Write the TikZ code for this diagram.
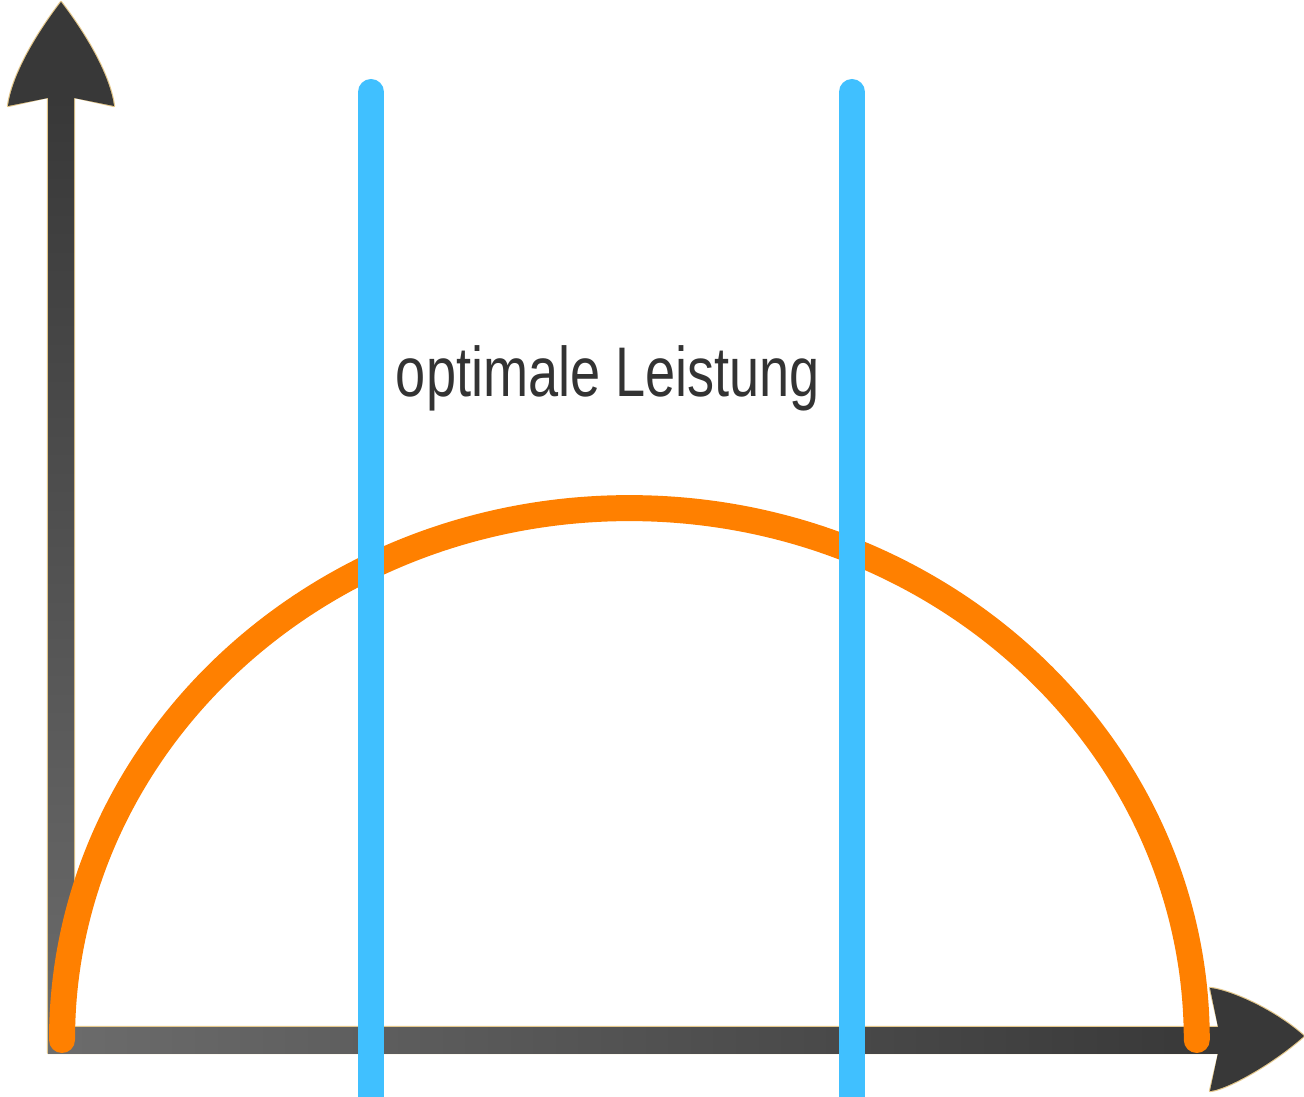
\documentclass[tikz,border=0pt]{standalone}
\usepackage{fontspec}
\setmainfont{Liberation Sans}
\definecolor{axdark}{HTML}{383838}
\definecolor{axlight}{HTML}{6C6C6C}
\definecolor{axedge}{RGB}{228,200,140}
\definecolor{curveorange}{HTML}{FF8000}
\definecolor{lineblue}{HTML}{40C0FF}
\definecolor{txt}{HTML}{333333}
\tikzset{
  bluebar/.style={draw=lineblue, line width=0.52cm, line cap=round},
  curvestyle/.style={draw=curveorange, line width=0.52cm, line cap=round},
  labeltext/.style={text=txt, font=\fontsize{40}{48}\selectfont, xscale=0.77, transform shape, inner sep=0pt}
}
\begin{document}
\begin{tikzpicture}[x=0.02cm, y=0.02cm]
\useasboundingbox (0,0) rectangle (1304,1096);
\clip (0,0) rectangle (1304,1096);
\fill[white] (0,0) rectangle (1304,1096);
% axis outline
\draw[axedge, line width=1.3pt, line join=round]
  (48,43) -- (48,999) -- (8,990)
  .. controls (12,1020) and (35,1060) .. (61,1094)
  .. controls (87,1060) and (110,1020) .. (114,990)
  -- (74,999) -- (74,69) -- (1219,69) -- (1210,108)
  .. controls (1225,107) and (1270,90) .. (1304,60)
  .. controls (1270,30) and (1225,6) .. (1210,5)
  -- (1219,43) -- cycle;
% shafts
\shade[top color=axdark, bottom color=axlight] (48,43) rectangle (74,1000);
\shade[left color=axlight, right color=axdark] (48,43) rectangle (1220,69);
% arrow heads
\fill[axdark] (48,998) -- (8,990)
  .. controls (12,1020) and (35,1060) .. (61,1094)
  .. controls (87,1060) and (110,1020) .. (114,990)
  -- (74,998) -- cycle;
\fill[axdark] (1218,69) -- (1210,108)
  .. controls (1225,107) and (1270,90) .. (1304,60)
  .. controls (1270,30) and (1225,6) .. (1210,5)
  -- (1218,43) -- cycle;
\coordinate (cstart) at (62,56);
\coordinate (ttop1) at (371,1004);
\coordinate (tbot1) at (371,-30);
\coordinate (ttop2) at (852,1004);
\coordinate (tbot2) at (852,-30);
% curve
\draw[curvestyle] (cstart) arc[start angle=180, end angle=0, x radius=11.35cm, y radius=10.64cm];
% blue bars
\draw[bluebar] (ttop1) -- (tbot1);
\draw[bluebar] (ttop2) -- (tbot2);
% label
\node[labeltext, anchor=base] (lbl) at (608,699) {optimale Leistung};
\end{tikzpicture}
\end{document}
